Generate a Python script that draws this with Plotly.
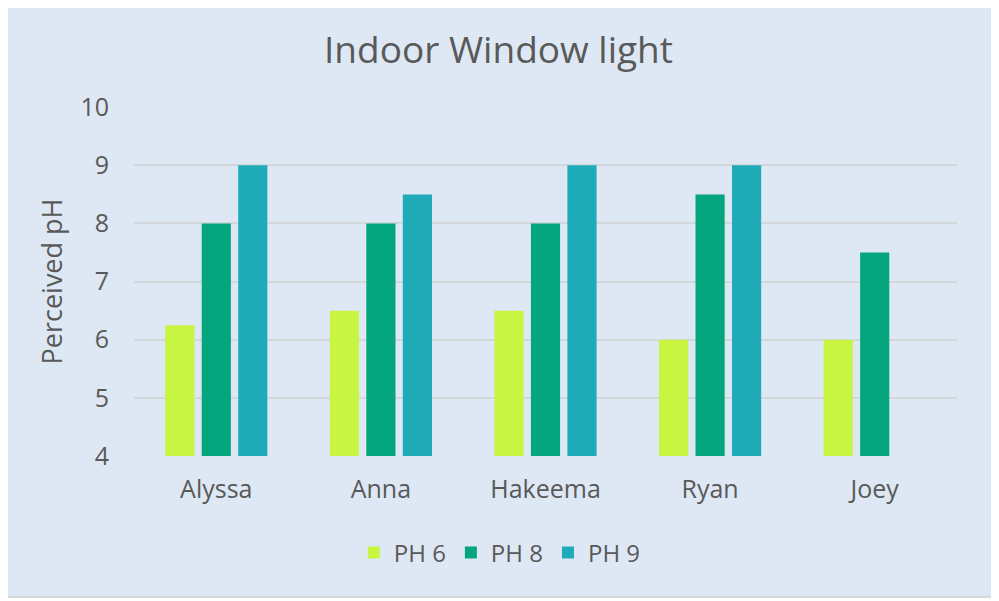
import plotly.graph_objects as go

categories = ["Alyssa", "Anna", "Hakeema", "Ryan", "Joey"]
ph6 = [6.25, 6.5, 6.5, 6.0, 6.0]
ph8 = [8.0, 8.0, 8.0, 8.5, 7.5]
ph9 = [9.0, 8.5, 9.0, 9.0, None]
series_names = ["PH 6", "PH 8", "PH 9"]
colors = ["#C7F542", "#05A67E", "#1FAAB8"]
y_ticks = [4, 5, 6, 7, 8, 9, 10]

OFF = 8  # page body offset
W, H = 999 - OFF, 601 - OFF
ml, mt = 134 - OFF, 107 - OFF
pr, pb = 957.5 - OFF, 456 - OFF
mr, mb = W - pr, H - pb
pw, ph = pr - ml, pb - mt

fig = go.Figure()
for name, vals, col in zip(series_names, [ph6, ph8, ph9], colors):
    fig.add_trace(go.Bar(
        x=categories, y=vals, name=name,
        marker=dict(color=col, line=dict(width=0)),
    ))

txt = "#595959"
FONT = "Open Sans"
fig.update_layout(
    width=W, height=H,
    margin=dict(l=ml, r=mr, t=mt, b=mb, autoexpand=False),
    paper_bgcolor="white",
    plot_bgcolor="#DDE8F4",
    font=dict(family=FONT, color=txt),
    barmode="group",
    bargap=0.335,
    bargroupgap=0.2,
    title=dict(text="Indoor Window light", x=(498.5 - OFF) / W, xanchor="center",
               y=1 - (50 - OFF) / H, yanchor="middle",
               font=dict(size=37, color=txt, family=FONT)),
    showlegend=True,
    legend=dict(orientation="h", x=(500 - 134) / pw, xanchor="center",
                y=-(553 - 456) / ph, yanchor="middle",
                font=dict(size=24, color=txt), itemwidth=30,
                traceorder="normal", bgcolor="rgba(0,0,0,0)"),
    xaxis=dict(showgrid=False, showline=False, ticks="",
               tickfont=dict(size=25, color=txt), ticklabelstandoff=16),
    yaxis=dict(range=[4, 10.003], tickvals=y_ticks, showgrid=True,
               gridcolor="#D3D7DC", gridwidth=1.5, zeroline=False,
               showline=False, ticks="",
               tickfont=dict(size=25, color=txt), ticklabelstandoff=24,
               title=dict(text="Perceived pH", font=dict(size=27, color=txt),
                          standoff=9)),
)

# chart area background and border
fig.add_shape(type="rect", xref="paper", yref="paper", layer="below",
              x0=(4 - OFF - ml) / pw, x1=(993 - OFF - ml) / pw,
              y0=-(597 - 456) / ph, y1=1 + (107 - 4) / ph,
              fillcolor="#DDE8F4", line=dict(color="#D0D0D0", width=1.5))

fig.write_html("out.html")
